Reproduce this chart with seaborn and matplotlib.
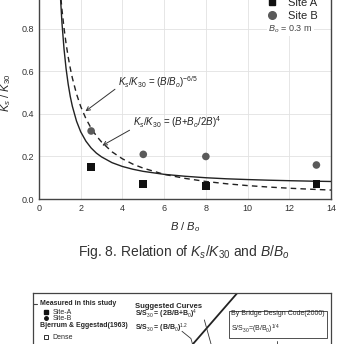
import numpy as np
import pandas as pd
import seaborn as sns
import matplotlib.pyplot as plt
from matplotlib.lines import Line2D
from matplotlib.ticker import MultipleLocator

sns.set_style("white")
plt.rcParams['font.family'] = ['Liberation Sans', 'DejaVu Sans']
plt.rcParams['mathtext.fontset'] = 'custom'
plt.rcParams['mathtext.rm'] = 'Liberation Sans'
plt.rcParams['mathtext.it'] = 'Liberation Sans:italic'
plt.rcParams['mathtext.bf'] = 'Liberation Sans:bold'

# measured points
b_ratio = [2.5, 5.0, 8.0, 13.3]
site_a = [0.15, 0.07, 0.06, 0.07]
site_b = [0.32, 0.21, 0.20, 0.16]

# curves
curve_x = [1.0, 1.1, 1.2, 1.3, 1.4, 1.5, 1.6, 1.8, 2.0, 2.25, 2.5, 2.75, 3.0, 3.5,
           4.0, 4.5, 5.0, 6.0, 7.0, 8.0, 9.0, 10.0, 11.0, 12.0, 13.0, 14.0]
solid_y = [1.0, 0.830, 0.706, 0.612, 0.540, 0.482, 0.436, 0.366, 0.316, 0.272, 0.240, 0.216,
           0.198, 0.171, 0.153, 0.140, 0.130, 0.116, 0.107, 0.100, 0.095, 0.0915, 0.0885,
           0.0861, 0.0841, 0.0824]
dashed_y = [1.0, 0.892, 0.804, 0.730, 0.668, 0.615, 0.569, 0.494, 0.435, 0.378, 0.333, 0.297,
            0.268, 0.222, 0.189, 0.164, 0.145, 0.116, 0.097, 0.0825, 0.0716, 0.0631, 0.0563,
            0.0507, 0.0461, 0.0421]

pts = pd.DataFrame({'x': b_ratio * 2, 'y': site_a + site_b,
                    'site': ['Site A'] * 4 + ['Site B'] * 4})
curves = pd.DataFrame({'x': curve_x * 2, 'y': solid_y + dashed_y,
                       'eq': ['solid'] * len(curve_x) + ['dashed'] * len(curve_x)})

fig = plt.figure(figsize=(3.37, 3.44), dpi=100)
ax = fig.add_axes([0.1157, 0.4215, 0.8665, 0.618])

sns.lineplot(data=curves, x='x', y='y', style='eq', color='#222222', linewidth=1.0,
             dashes={'solid': '', 'dashed': (4, 3)}, legend=False, ax=ax, zorder=3)
sns.scatterplot(data=pts, x='x', y='y', hue='site', style='site',
                markers={'Site A': 's', 'Site B': 'o'},
                palette={'Site A': '#111111', 'Site B': '#5a5a5a'},
                s=30, edgecolor='none', legend=False, ax=ax, zorder=4)

ax.set_xlim(0, 14)
ax.set_ylim(0, 1.0)
ax.xaxis.set_major_locator(MultipleLocator(2))
ax.xaxis.set_minor_locator(MultipleLocator(1))
ax.yaxis.set_major_locator(MultipleLocator(0.2))
ax.yaxis.set_minor_locator(MultipleLocator(0.1))
ax.set_yticks([0.0, 0.2, 0.4, 0.6, 0.8])
ax.set_yticklabels(['0.0', '0.2', '0.4', '0.6', '0.8'])
ax.grid(True, color='#e2e2e2', linewidth=0.6)
ax.tick_params(which='both', direction='in', labelsize=6.5, colors='#333333',
               top=False, right=False)
ax.tick_params(which='major', length=3)
ax.tick_params(which='minor', length=2)
for sp in ax.spines.values():
    sp.set_color('#444444')
    sp.set_linewidth(1.0)

ax.set_xlabel(r'$B$ / $B_o$', fontsize=8, labelpad=5)
ax.set_ylabel(r'$K_s$ / $K_{30}$', fontsize=8, labelpad=6)

ax.annotate(r'$K_s$/$K_{30}$ = ($B$/$B_o$)$^{-6/5}$', xy=(2.12, 0.405), xytext=(3.8, 0.55),
            fontsize=7, va='center', color='#222222',
            arrowprops=dict(arrowstyle='->', color='#333333', lw=0.7, shrinkA=0,
                            relpos=(0, 0.2)))
ax.annotate(r'$K_s$/$K_{30}$ = ($B$+$B_o$/2$B$)$^4$', xy=(2.92, 0.245), xytext=(4.5, 0.362),
            fontsize=7, va='center', color='#222222',
            arrowprops=dict(arrowstyle='->', color='#333333', lw=0.7, shrinkA=0,
                            relpos=(0, 0.1)))

handles = [Line2D([], [], marker='s', color='#111111', linestyle='none', markersize=5),
           Line2D([], [], marker='o', color='#5a5a5a', linestyle='none', markersize=5.5)]
leg = ax.legend(handles, ['Site A', 'Site B'], loc='upper left', bbox_to_anchor=(0.755, 0.978),
                frameon=True, fontsize=8, handletextpad=0.9, borderpad=0.15,
                labelspacing=0.2, handlelength=1.0)
leg.get_frame().set_edgecolor('none')
leg.get_frame().set_facecolor('white')
ax.text(0.785, 0.8, r'$B_o$ = 0.3 m', transform=ax.transAxes, fontsize=6.5, va='center',
        color='#444444', zorder=6,
        bbox=dict(facecolor='white', edgecolor='none', pad=1))

fig.text(0.545, 1 - 252 / 344, r'Fig. 8. Relation of $K_s$/$K_{30}$ and $B$/$B_o$',
         ha='center', va='center', fontsize=10, color='#333333')

# next figure, cut off by the page edge
ax2 = fig.add_axes([33 / 337, 1 - 500 / 344, 298 / 337, 207 / 344])
ax2.set_xlim(0, 1)
ax2.set_ylim(0, 1)
ax2.set_xticks([])
ax2.set_yticks([])
for sp in ax2.spines.values():
    sp.set_color('#444444')
    sp.set_linewidth(0.9)
ax2.plot([0.012, 0.0], [0.947, 0.947], color='#444444', lw=0.8)

line_x = [0.40, 0.534, 0.74]
line_y = [0.53, 0.749, 1.09]
ax2.plot(line_x, line_y, color='#222222', lw=1.3, clip_on=True)
ax2.plot([0.50, 0.53, 0.538], [0.815, 0.78, 0.74], color='#333333', lw=0.6)
ax2.plot([0.575, 0.60], [0.87, 0.74], color='#333333', lw=0.6)
ax2.plot([0.82, 0.82], [0.77, 0.70], color='#333333', lw=0.6)
ax2.plot([0.88, 0.91], [0.80, 0.82], color='#333333', lw=0.6, linestyle='--')

fs2 = 5
ax2.text(0.024, 0.947, 'Measured in this study', fontsize=fs2, fontweight='bold', va='center')
ax2.plot([0.042], [0.908], marker='s', color='#111111', markersize=2.5)
ax2.text(0.065, 0.908, 'Site-A', fontsize=fs2, va='center')
ax2.plot([0.042], [0.879], marker='o', color='#111111', markersize=2.5)
ax2.text(0.065, 0.879, 'Site-B', fontsize=fs2, va='center')
ax2.text(0.024, 0.841, 'Bjerrum & Eggestad(1963)', fontsize=fs2, fontweight='bold', va='center')
ax2.plot([0.042], [0.787], marker='s', markerfacecolor='white', markeredgecolor='#111111',
         markersize=2.8, markeredgewidth=0.6)
ax2.text(0.065, 0.787, 'Dense', fontsize=fs2, va='center')
ax2.plot([0.042], [0.734], marker='v', markerfacecolor='white', markeredgecolor='#111111',
         markersize=2.8, markeredgewidth=0.6)
ax2.text(0.065, 0.734, 'Medium', fontsize=fs2, va='center')

ax2.text(0.342, 0.937, 'Suggested Curves', fontsize=5.5, fontweight='bold', va='center')
ax2.text(0.342, 0.899, r'S/S$_{30}$ = (2B/B+B$_0$)$^4$', fontsize=5, fontweight='bold',
         va='center')
ax2.text(0.342, 0.831, r'S/S$_{30}$ = (B/B$_0$)$^{1.2}$', fontsize=5, fontweight='bold',
         va='center')
ax2.text(0.665, 0.855, 'By Bridge Design Code(2000)\n' + r'S/S$_{30}$=(B/B$_0$)$^{1/4}$',
         fontsize=5, va='center', linespacing=1.6,
         bbox=dict(facecolor='white', edgecolor='#333333', linewidth=0.6, pad=1.5))

fig.savefig('out.png', dpi=100)
